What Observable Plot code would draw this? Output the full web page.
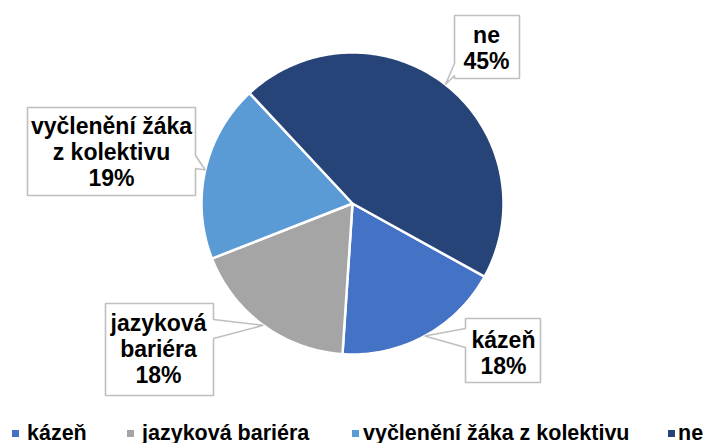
<!DOCTYPE html>
<html><head><meta charset="utf-8">
<script src="https://cdn.jsdelivr.net/npm/d3@7"></script>
<script src="https://cdn.jsdelivr.net/npm/@observablehq/plot@0.6"></script>
<style>
html,body{margin:0;padding:0;background:#fff;overflow:hidden}
#wrap{position:relative;width:707px;height:443px;font-family:'Liberation Sans',Arimo,sans-serif;font-weight:bold}
#wrap svg{display:block}
.leg{position:absolute;top:422.5px;font-size:21.5px;line-height:20px;white-space:nowrap;color:#000;font-weight:bold}
.sw{position:absolute;top:430px;width:7px;height:7px}
</style></head><body><div id="wrap"></div>
<script>
// ---- data ----
const categories = ["kázeň", "jazyková bariéra", "vyčlenění žáka z kolektivu", "ne"];
const labelTexts = ["kázeň", "jazyková\nbariéra", "vyčlenění žáka\nz kolektivu", "ne"];
const values = [18, 18, 19, 45];
const colors = ["#4472C4", "#A5A5A5", "#5B9BD5", "#264478"];

// ---- layout (pixels) ----
const W = 707, H = 415, CX = 352, CY = 203, R = 151, START = 119;
const boxes = [
  {x0: 465, y0: 318, x1: 540, y1: 382, side: "left",  b0: 328, b1: 347, tx: 503, ty: 352},
  {x0: 105, y0: 303, x1: 213, y1: 395, side: "right", b0: 319, b1: 338, tx: 158, ty: 348.6},
  {x0: 27,  y0: 107, x1: 195, y1: 195, side: "right", b0: 155, b1: 168, tx: 111, ty: 151},
  {x0: 454, y0: 15,  x1: 519, y1: 78,  side: "left",  b0: 63,  b1: 75,  tx: 486, ty: 47.6}
];
const legendSwatchX = [11.5, 127, 352, 668];
const legendTextX = [27, 142, 363, 678];
const FONT = "'Liberation Sans',Arimo,sans-serif";

// ---- build geometry from data ----
const total = d3.sum(values);
const rad = a => a * Math.PI / 180;
const slicePts = [];
const mids = [];
let acc = 0;
categories.forEach((c, i) => {
  const a0 = START + acc / total * 360;
  acc += values[i];
  const a1 = START + acc / total * 360;
  mids.push((a0 + a1) / 2);
  slicePts.push({name: c, x: CX, y: CY});
  const n = Math.max(2, Math.ceil(a1 - a0));
  for (let k = 0; k <= n; k++) {
    const a = rad(a0 + (a1 - a0) * k / n);
    slicePts.push({name: c, x: CX + R * Math.sin(a), y: CY - R * Math.cos(a)});
  }
});

const calloutPts = [];
const labels = [];
categories.forEach((c, i) => {
  const b = boxes[i];
  const m = rad(mids[i]);
  const tip = {x: CX + R * Math.sin(m), y: CY - R * Math.cos(m)};
  let poly;
  if (b.side === "right") {
    poly = [[b.x0,b.y0],[b.x1,b.y0],[b.x1,b.b0],[tip.x,tip.y],[b.x1,b.b1],[b.x1,b.y1],[b.x0,b.y1]];
  } else {
    poly = [[b.x0,b.y0],[b.x1,b.y0],[b.x1,b.y1],[b.x0,b.y1],[b.x0,b.b1],[tip.x,tip.y],[b.x0,b.b0]];
  }
  poly.forEach(([x, y]) => calloutPts.push({id: c, x, y}));
  labels.push({x: b.tx, y: b.ty, text: `${labelTexts[i]}\n${values[i]}%`});
});

const chart = Plot.plot({
  width: W, height: H, margin: 0,
  x: {type: "linear", domain: [0, W], range: [0, W], axis: null},
  y: {type: "linear", domain: [0, H], range: [0, H], axis: null},
  color: {domain: categories, range: colors},
  style: {background: "#fff", fontFamily: FONT, overflow: "visible"},
  marks: [
    Plot.line(slicePts, {x: "x", y: "y", z: "name", fill: "name", stroke: "white", strokeWidth: 2.5, curve: "linear-closed", strokeLinejoin: "round"}),
    Plot.line(calloutPts, {x: "x", y: "y", z: "id", fill: "white", stroke: "#bfbfbf", strokeWidth: 1.6, curve: "linear-closed", strokeLinejoin: "miter"}),
    Plot.text(labels, {x: "x", y: "y", text: "text", fontSize: 23, fontWeight: "bold", fontFamily: FONT, lineHeight: 1.13, fill: "black"})
  ]
});

const wrap = document.getElementById("wrap");
wrap.appendChild(chart);
const color = chart.scale("color");
categories.forEach((c, i) => {
  const sw = document.createElement("div");
  sw.className = "sw";
  sw.style.left = legendSwatchX[i] + "px";
  sw.style.background = color.apply(c);
  wrap.appendChild(sw);
  const t = document.createElement("div");
  t.className = "leg";
  t.style.left = legendTextX[i] + "px";
  t.textContent = c;
  wrap.appendChild(t);
});
</script></body></html>
